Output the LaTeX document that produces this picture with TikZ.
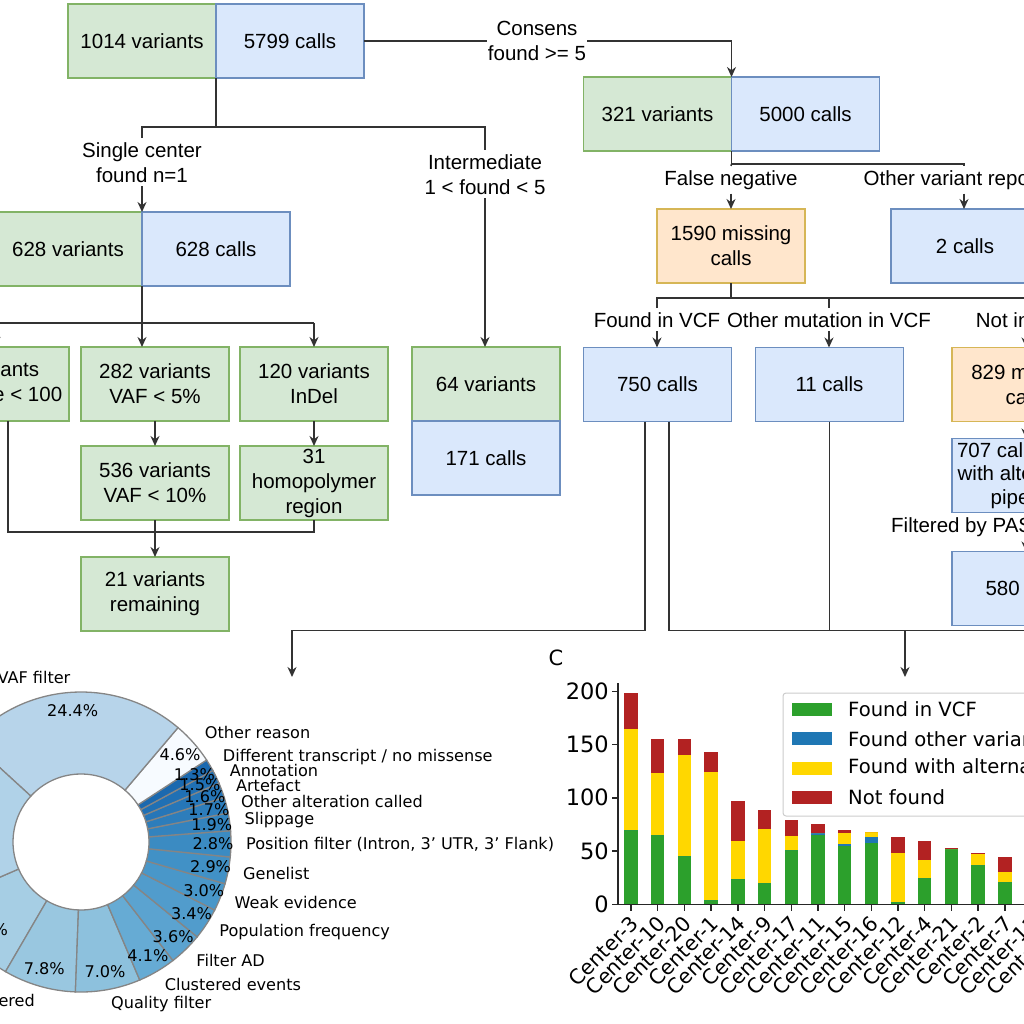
\documentclass[tikz,border=0pt]{standalone}
\usepackage{fontspec}
\setmainfont{Liberation Sans}
\newfontfamily\plotfont{DejaVu Sans}
\usepackage{tikz}
\usetikzlibrary{positioning, arrows.meta}

\definecolor{vfill}{HTML}{D5E8D4}
\definecolor{vline}{HTML}{82B366}
\definecolor{cfill}{HTML}{DAE8FC}
\definecolor{cline}{HTML}{6C8EBF}
\definecolor{mfill}{HTML}{FFE6CC}
\definecolor{mline}{HTML}{D6B656}
\definecolor{linegray}{HTML}{333333}
\definecolor{pieedge}{HTML}{858585}
\definecolor{bgreen}{HTML}{2CA02C}
\definecolor{bblue}{HTML}{1F77B4}
\definecolor{byellow}{HTML}{FFD700}
\definecolor{bred}{HTML}{B22222}

\newcommand{\boxfont}{\fontsize{20.5}{25}\selectfont}
\newcommand{\piefont}{\plotfont\fontsize{16.1}{19}\selectfont}
\newcommand{\axfont}{\plotfont\fontsize{20.5}{24}\selectfont}
\newcommand{\tickfont}{\plotfont\fontsize{22.5}{26}\selectfont}
\newcommand{\legfont}{\plotfont\fontsize{19.6}{23}\selectfont}

\begin{document}
\begin{tikzpicture}[
    x=1pt, y=1pt,
    box/.style={draw, line width=1.2pt, minimum width=148pt, minimum height=74pt, align=center, inner sep=2pt, outer sep=0pt, font=\boxfont},
    vbox/.style={box, fill=vfill, draw=vline},
    cbox/.style={box, fill=cfill, draw=cline},
    mbox/.style={box, fill=mfill, draw=mline},
    lbl/.style={align=center, inner sep=4pt, font=\boxfont},
    conn/.style={draw=linegray, line width=1.5pt},
    arr/.style={conn, -{Stealth[length=10pt, width=9pt]}},
    axis/.style={draw=black!85, line width=1.4pt},
    xlab/.style={rotate=45, anchor=north east, inner sep=0pt, font=\axfont}
]
\useasboundingbox (0,0) rectangle (1024,-1024);
\clip (0,0) rectangle (1024,-1024);

% Top row
\node[vbox] (v1014) at (142,-41) {1014 variants};
\node[cbox, right=0pt of v1014] (c5799) {5799 calls};
\node[lbl, inner sep=1pt] (lcons) at (537,-41) {Consens\\found >= 5};
\node[vbox] (v321) at (657.5,-114) {321 variants};
\node[cbox, right=0pt of v321] (c5000) {5000 calls};

% Left branch
\node[lbl, anchor=north] (lsingle) at (142,-138) {Single center\\found n=1};
\node[lbl, anchor=north] (linter) at (485,-150) {Intermediate\\1 < found < 5};
\node[vbox] (v628) at (68,-249) {628 variants};
\node[cbox, right=0pt of v628] (c628) {628 calls};
\node[vbox, minimum width=160pt] (bcov) at (-11,-384) {29 variants\\Coverage < 100};
\node[vbox] (b282) at (155,-384) {282 variants\\VAF < 5\%};
\node[vbox] (b120) at (314,-384) {120 variants\\InDel};
\node[vbox, below=25pt of b282] (b536) {536 variants\\VAF < 10\%};
\node[vbox, below=25pt of b120] (bhomo) {31\\homopolymer\\region};
\node[vbox, below=37pt of b536] (b21) {21 variants\\remaining};
\node[vbox] (v64) at (486,-384) {64 variants};
\node[cbox, below=0pt of v64] (c171) {171 calls};

% Right branch
\node[lbl, anchor=north] (lfalse) at (731,-166) {False negative};
\node[lbl, anchor=north] (lother) at (964,-166) {Other variant reported};
\node[mbox] (m1590) at (731,-246) {1590 missing\\calls};
\node[cbox] (c2) at (965,-246) {2 calls};
\node[lbl, anchor=north] (lfound) at (657,-308) {Found in VCF};
\node[lbl, anchor=north] (lothmut) at (829,-308) {Other mutation in VCF};
\node[lbl, anchor=north] (lnotin) at (1026,-308) {Not in VCF};
\node[cbox] (c750) at (657.5,-384.5) {750 calls};
\node[cbox] (c11) at (829.5,-384.5) {11 calls};
\node[mbox] (m829) at (1026,-384.5) {829 missing\\calls};
\node[cbox, below=17pt of m829, font=\fontsize{20.5}{23.5}\selectfont] (c707) {707 calls found\\with alternative\\pipeline};
\node[lbl, anchor=west] (lpass) at (887,-527) {Filtered by PASS};
\node[cbox, below=39pt of c707] (c580) {580 calls};

% Connectors, top
\draw[conn] (c5799.east) -- (lcons.west);
\draw[arr] (lcons.east) -| (c5000.north west);
\draw[conn] (v1014.south east) -- ++(0,-49) coordinate (split1);
\draw[conn] (lsingle.north) |- (split1) -| (linter.north);
\draw[arr] (lsingle.south) -- (c628.north west);
\draw[arr] (linter.south) -- (linter.south |- v64.north);

% Connectors, single center
\draw[conn] (c628.south west) -- ++(0,-37) coordinate (split2);
\draw[conn] ([xshift=7pt]bcov.north |- split2) -- (b120.north |- split2);
\draw[arr] ([xshift=7pt]bcov.north |- split2) -- ([xshift=7pt]bcov.north);
\draw[arr] (split2) -- (split2 |- b282.north);
\draw[arr] (b120.north |- split2) -- (b120.north);
\draw[arr] (b282) -- (b536);
\draw[arr] (b120) -- (bhomo);
\draw[conn] (b536.south) -- ++(0,-12) coordinate (split3);
\draw[arr] (split3) -- (b21.north);
\draw[conn] ([xshift=19pt]bcov.south) |- (split3) -| (bhomo.south);

% Connectors, consensus
\draw[conn] (c5000.south west) -- ++(0,-13) coordinate (split4) -| (lother.north);
\draw[conn] (split4) -- (lfalse.north);
\draw[arr] (lfalse) -- (m1590);
\draw[arr] (lother.south) -- (lother.south |- c2.north);
\draw[conn] (m1590.south) -- ++(0,-15) coordinate (split5);
\draw[conn] (lfound.north) |- (split5) -| (lnotin.north);
\draw[conn] (lothmut.north |- split5) -- (lothmut.north);
\draw[arr] (lfound.south) -- (lfound.south |- c750.north);
\draw[arr] (lothmut.south) -- (lothmut.south |- c11.north);
\draw[arr] (lnotin) -- (m829);
\draw[arr] (m829) -- (c707);
\draw[conn] (c707.south) -- (c707.south |- lpass.north);
\draw[arr] (c707.south |- lpass.south) -- (c580.north);

% Connectors to the charts
\coordinate (piein) at (292,-677);
\coordinate (barin) at (905,-677);
\draw[arr] ([xshift=-12.5pt]c750.south) -- ++(0,-209) -| (piein);
\draw[conn] ([xshift=11.5pt]c750.south) -- ++(0,-209) coordinate (split6) -| (c580.south);
\draw[conn] (c11.south) -- (c11.south |- split6);
\draw[arr] (barin |- split6) -- (barin);

% Pie chart
\begin{scope}[shift={(81,-842)}, font=\piefont]
\foreach \a/\b/\h in {-156.58/-120.22/A6CEE4, -120.22/-92.14/99C7E0, -92.14/-66.94/8DC1DD,
    -66.94/-52.18/66ABD4, -52.18/-39.22/5BA3D0, -39.22/-26.98/519CCC, -26.98/-16.18/4997C9,
    -16.18/-5.74/4191C6, -5.74/4.34/3B8BC2, 4.34/11.18/3383BE, 11.18/17.30/2D7DBB,
    17.30/23.06/2676B8, 23.06/28.46/2070B4, 28.46/33.14/1B69AF, 33.14/49.70/F7FBFF,
    49.70/137.54/B7D4EA, 137.54/203.42/B0D2E8}
{
    \definecolor{wedge}{HTML}{\h}
    \filldraw[fill=wedge, draw=pieedge, line width=1.3pt] (\a:150) arc[start angle=\a, end angle=\b, radius=150]
        -- (\b:68) arc[start angle=\b, end angle=\a, radius=68] -- cycle;
}
\foreach \m/\t [count=\n] in {-138.4/{10.1\%}, -106.18/{7.8\%}, -79.54/{7.0\%}, -59.56/{4.1\%},
    -45.70/{3.6\%}, -33.10/{3.4\%}, -21.58/{3.0\%}, -10.96/{2.9\%}, -0.70/{2.8\%}, 7.76/{1.9\%},
    14.24/{1.7\%}, 20.18/{1.6\%}, 25.76/{1.5\%}, 30.80/{1.3\%}, 41.42/{4.6\%}, 93.62/{24.4\%}}
    \node[inner sep=0pt] (pct\n) at (\m:132) {\t};
\foreach \m/\t/\s [count=\n] in {41.42/{Other reason}/west, 30.80/{Different transcript / no missense}/west,
    25.76/{Annotation}/west, 20.18/{Artefact}/west, 14.24/{Other alteration called}/west,
    7.76/{Slippage}/west, -0.70/{Position filter (Intron, 3’ UTR, 3’ Flank)}/west,
    -10.96/{Genelist}/west, -21.58/{Weak evidence}/west, -33.10/{Population frequency}/west,
    -45.70/{Filter AD}/west, -59.56/{Clustered events}/west, -79.54/{Quality filter}/west,
    -106.18/{Not filtered}/east, 93.62/{VAF filter}/east}
    \node[anchor=\s, inner sep=0pt] (pname\n) at (\m:165) {\t};
\end{scope}

% Bar chart
\node[font=\plotfont\fontsize{21}{25}\selectfont] (panelc) at (556,-658) {C};
\foreach \i/\g/\u/\w/\r/\lab in {0/70/0/95/33/Center-3, 1/65/0/58/32/Center-10, 2/45/0/95/15/Center-20,
    3/4/0/120/19/Center-1, 4/24/0/35/38/Center-14, 5/20/0/51/18/Center-9, 6/51/0/13/15/Center-17,
    7/65/2/0/8/Center-11, 8/55/2/10/3/Center-15, 9/58/5/5/0/Center-16, 10/2/0/46/15/Center-12,
    11/25/0/17/17/Center-4, 12/52/0/0/1/Center-21, 13/37/0/10/1/Center-2, 14/21/0/9/14/Center-7,
    15/20/0/11/11/Center-13, 16/0/0/0/0/Center-18}
{
    \pgfmathsetmacro\xc{631+26.7*\i}
    \pgfmathsetmacro\yg{-904.3+1.065*\g}
    \pgfmathsetmacro\yb{\yg+1.065*\u}
    \pgfmathsetmacro\yy{\yb+1.065*\w}
    \pgfmathsetmacro\yr{\yy+1.065*\r}
    \fill[bgreen] ({\xc-6.7},-904.3) rectangle ({\xc+6.7},\yg);
    \fill[bblue] ({\xc-6.7},\yg) rectangle ({\xc+6.7},\yb);
    \fill[byellow] ({\xc-6.7},\yb) rectangle ({\xc+6.7},\yy);
    \fill[bred] ({\xc-6.7},\yy) rectangle ({\xc+6.7},\yr);
    \draw[axis] (\xc,-904.3) -- (\xc,-911);
    \node[xlab] (xl\i) at ({\xc-2},-914) {\lab};
}
\draw[axis] (618,-683) -- (618,-904.3) -- (1040,-904.3);
\foreach \v in {0,50,...,200}
{
    \draw[axis] (612,{-904.3+1.065*\v}) -- (618,{-904.3+1.065*\v});
    \node[anchor=east, inner sep=1pt, font=\tickfont] (yl\v) at (610,{-904.3+1.065*\v}) {\v};
}

% Legend
\draw[draw=black!20, line width=1pt, fill=white, rounded corners=3pt] (783,-693) rectangle (1100,-816);
\foreach \k/\col/\txt in {0/bgreen/Found in VCF, 1/bblue/Found other variant,
    2/byellow/Found with alternative pipeline, 3/bred/Not found}
{
    \fill[\col] (792,{-703-29.3*\k}) rectangle (832,{-716-29.3*\k});
    \node[anchor=west, inner sep=0pt, font=\legfont] (leg\k) at (848,{-709.5-29.3*\k}) {\txt};
}

\end{tikzpicture}
\end{document}
